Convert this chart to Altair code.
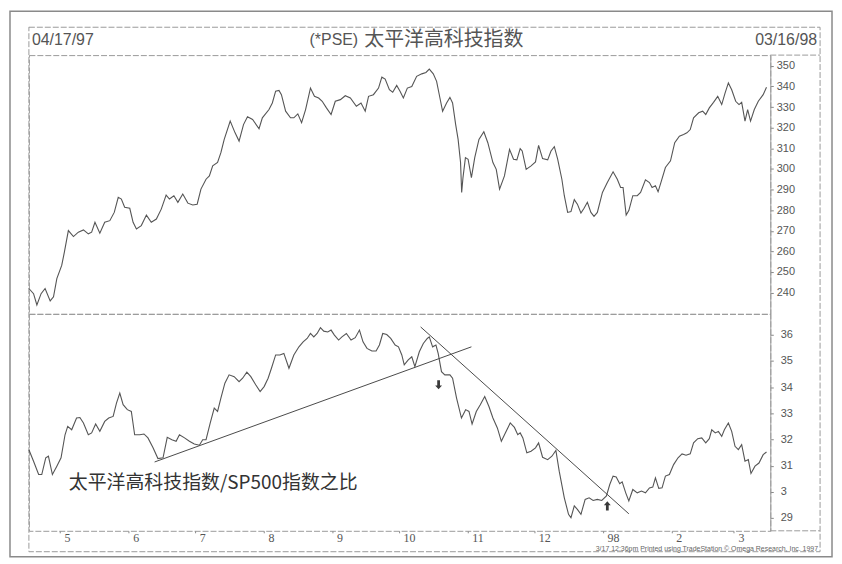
import altair as alt
import pandas as pd

START = "1997-04-17"

# ---- upper panel: (*PSE) Pacific tech index, day offset from 04/17/97 and close
top_days = [0, 2.1, 3.6, 5.5, 7.3, 9.6, 11.1, 12.6, 14.8, 16.0,
            17.8, 20.1, 22.3, 24.6, 26.8, 28.3, 29.8, 32.0, 34.2, 36.5,
            38.5, 40.3, 41.7, 43.2, 45.5, 47.0, 48.5, 50.7, 53.0, 55.2,
            57.5, 59.7, 61.9, 63.4, 65.4, 67.2, 69.4, 71.7, 73.9, 75.9,
            77.6, 79.9, 81.4, 82.9, 85.1, 86.6, 88.1, 90.8, 93.0, 94.8,
            96.8, 98.6, 100.9, 103.8, 105.3, 108.3, 109.8, 111.3, 112.8, 113.9,
            115.8, 118.0, 119.5, 121.3, 123.0, 124.8, 127.0, 128.8, 130.7, 132.3,
            134.2, 136.3, 138.2, 140.5, 142.7, 145.0, 147.7, 149.8, 151.7, 153.2,
            155.4, 157.7, 159.2, 160.7, 162.6, 164.1, 165.9, 167.4, 168.9, 170.7,
            172.7, 174.9, 177.2, 179.1, 180.6, 182.4, 183.9, 185.4, 186.6, 188.4,
            189.9, 191.1, 192.5, 193.6, 194.7, 195.2, 195.8, 196.9, 198.1, 199.6,
            201.1, 203.0, 205.2, 207.0, 209.3, 210.8, 212.3, 214.5, 216.8, 218.6,
            220.1, 221.6, 222.5, 224.3, 226.5, 228.5, 229.9, 231.7, 234.0, 235.5,
            237.0, 238.5, 240.4, 241.5, 243.0, 244.5, 246.0, 247.4, 249.0, 250.4,
            251.9, 253.5, 254.9, 256.4, 258.7, 260.9, 263.5, 265.4, 266.9, 268.0,
            269.4, 270.6, 272.4, 274.4, 275.9, 278.1, 279.9, 281.1, 282.6, 283.8,
            285.3, 287.1, 289.4, 291.3, 293.4, 295.3, 296.8, 298.3, 299.8, 302.1,
            303.9, 305.3, 306.9, 308.8, 310.7, 312.5, 314.0, 315.5, 317.0, 318.8,
            320.3, 321.5, 323.0, 324.2, 325.5, 327.2, 329.0, 331.2, 332.7]
top_vals = [242.0, 239.5, 234.0, 239.5, 242.0, 236.0, 238.0, 246.8, 253.2, 259.6,
            270.1, 267.2, 269.3, 270.4, 268.5, 269.3, 274.1, 268.8, 274.1, 274.9,
            278.9, 286.2, 285.4, 281.4, 280.9, 274.1, 270.9, 272.5, 277.6, 274.1,
            275.7, 280.5, 287.3, 285.4, 287.0, 283.8, 287.8, 283.4, 282.5, 282.9,
            290.2, 295.0, 296.6, 301.5, 303.1, 307.9, 314.3, 323.2, 317.5, 313.5,
            321.5, 325.3, 324.0, 319.5, 324.8, 328.8, 332.0, 337.7, 338.1, 336.0,
            328.0, 324.8, 324.8, 326.7, 322.4, 328.8, 339.2, 335.2, 334.4, 332.8,
            329.6, 326.4, 332.8, 333.6, 335.5, 334.4, 330.4, 332.0, 328.0, 335.2,
            336.0, 339.2, 344.5, 343.6, 338.4, 337.2, 340.5, 337.7, 334.4, 339.2,
            340.0, 344.9, 346.1, 346.8, 348.4, 346.1, 342.5, 334.4, 328.0, 332.0,
            334.7, 332.0, 321.5, 314.3, 303.1, 288.6, 295.8, 305.5, 304.7, 295.8,
            305.5, 314.3, 318.0, 312.7, 303.1, 299.8, 290.2, 296.6, 309.5, 304.7,
            304.4, 309.8, 308.7, 299.8, 301.5, 303.4, 311.4, 305.0, 304.4, 308.7,
            310.8, 304.7, 295.0, 287.0, 278.9, 279.3, 285.1, 282.9, 278.6, 280.9,
            283.8, 278.9, 277.0, 278.9, 288.6, 293.4, 298.6, 295.0, 291.0, 291.0,
            277.6, 279.8, 287.0, 287.0, 288.6, 294.7, 293.4, 291.0, 291.8, 288.9,
            294.2, 300.7, 303.9, 312.7, 315.9, 316.7, 317.5, 319.1, 324.8, 327.2,
            328.0, 326.4, 329.6, 332.3, 335.2, 331.2, 336.8, 341.7, 338.4, 332.8,
            331.2, 332.3, 323.2, 328.8, 323.2, 328.8, 332.8, 336.0, 339.6]

# ---- lower panel: ratio PSE / SP500
bot_days = [0, 2.1, 4.4, 5.8, 7.6, 8.8, 10.6, 12.6, 14.5, 16.3,
            17.5, 19.3, 21.5, 23.0, 24.6, 26.8, 28.3, 30.1, 32.0, 34.2,
            36.0, 38.0, 39.5, 41.0, 42.5, 44.4, 46.2, 47.7, 50.0, 51.9,
            53.7, 56.0, 58.2, 60.5, 62.4, 64.5, 66.4, 67.9, 70.2, 72.4,
            74.6, 76.9, 78.4, 79.9, 81.8, 83.6, 85.1, 86.6, 88.4, 90.3,
            92.6, 94.8, 96.4, 98.3, 100.1, 102.3, 104.3, 106.1, 107.9, 109.4,
            111.3, 113.2, 115.0, 117.3, 119.5, 121.8, 123.7, 125.5, 127.0, 128.5,
            130.0, 131.5, 133.0, 134.8, 136.3, 137.8, 139.7, 141.2, 143.2, 145.3,
            147.2, 149.1, 150.7, 152.5, 154.7, 156.6, 158.1, 159.6, 161.4, 163.2,
            165.2, 166.7, 168.2, 169.3, 171.1, 172.7, 174.1, 176.1, 177.9, 179.7,
            180.6, 182.1, 183.6, 184.6, 186.1, 187.6, 189.9, 191.1, 192.9, 195.1,
            197.0, 198.5, 199.9, 201.8, 203.6, 205.6, 207.5, 209.3, 211.3, 213.1,
            214.9, 217.1, 219.0, 220.5, 221.6, 222.8, 224.6, 226.5, 228.5, 229.9,
            231.7, 234.0, 235.9, 237.7, 239.2, 241.5, 243.4, 244.5, 246.0, 247.4,
            249.0, 250.9, 252.7, 254.5, 256.4, 258.4, 260.5, 262.0, 263.5, 264.9,
            266.5, 267.6, 269.2, 270.6, 272.4, 274.4, 276.3, 278.1, 279.9, 281.4,
            282.6, 284.1, 285.6, 287.1, 288.9, 290.8, 292.8, 294.6, 296.4, 298.3,
            299.8, 301.7, 303.5, 305.3, 306.9, 308.0, 309.6, 311.0, 312.5, 313.7,
            315.5, 317.0, 318.5, 320.0, 321.5, 323.0, 324.5, 325.7, 327.5, 329.3,
            331.2, 332.7]
bot_vals = [31.61, 31.17, 30.66, 30.66, 31.30, 31.36, 30.66, 30.98, 31.30, 32.18,
            32.50, 32.37, 32.82, 32.84, 32.63, 32.18, 32.25, 32.59, 32.31, 32.69,
            32.82, 32.88, 33.39, 33.77, 33.33, 33.14, 33.07, 32.18, 32.18, 32.21,
            32.06, 31.68, 31.27, 31.30, 32.08, 31.99, 31.93, 32.18, 32.06, 31.93,
            31.83, 31.78, 31.99, 31.99, 32.63, 33.20, 33.07, 33.58, 34.15, 34.47,
            34.40, 34.21, 34.34, 34.57, 34.40, 34.09, 33.83, 34.02, 34.34, 34.72,
            35.23, 35.23, 35.29, 34.72, 35.23, 35.54, 35.73, 35.86, 36.05, 35.92,
            36.05, 36.27, 36.14, 36.11, 36.18, 35.99, 35.80, 35.92, 36.05, 35.80,
            35.89, 36.18, 35.73, 35.48, 35.38, 35.38, 35.61, 36.05, 36.01, 35.86,
            35.61, 35.54, 35.23, 34.85, 35.04, 35.16, 34.78, 35.35, 35.67, 35.86,
            35.92, 35.54, 35.61, 35.29, 34.59, 34.47, 34.47, 34.34, 33.58, 32.82,
            33.14, 33.07, 32.59, 33.07, 33.33, 33.64, 33.26, 32.82, 32.44, 31.93,
            32.25, 32.63, 32.46, 32.18, 32.25, 32.06, 31.49, 31.55, 31.68, 31.87,
            31.32, 31.23, 31.36, 31.58, 30.79, 29.77, 29.14, 29.01, 29.46, 29.33,
            29.14, 29.71, 29.77, 29.67, 29.71, 29.67, 29.84, 30.28, 30.60, 30.57,
            30.31, 30.38, 29.96, 29.65, 30.09, 29.96, 30.03, 29.96, 30.15, 30.18,
            30.53, 30.13, 30.15, 30.60, 30.66, 31.04, 31.30, 31.45, 31.40, 31.45,
            31.87, 32.03, 32.06, 31.87, 32.03, 32.37, 32.25, 32.31, 32.12, 32.37,
            32.63, 32.31, 31.74, 31.61, 31.80, 31.17, 31.23, 30.70, 30.98, 31.10,
            31.42, 31.52]

# trend lines drawn on the ratio panel (day offset, value)
trend_seg = ["up", "up", "down", "down"]
trend_days = [56.7, 199.6, 176.7, 270.6]
trend_vals = [31.14, 35.54, 36.30, 29.16]

# signal arrows (180 = pointing down, 0 = pointing up)
arrow_days = [184.8, 260.9]
arrow_vals = [34.09, 29.46]
arrow_dir = [180, 0]

# tick labels
top_ticks = [240, 250, 260, 270, 280, 290, 300, 310, 320, 330, 340, 350]
bot_ticks = [29, 30, 31, 32, 33, 34, 35, 36]
month_ticks = [(1997, 5), (1997, 6), (1997, 7), (1997, 8), (1997, 9), (1997, 10),
               (1997, 11), (1997, 12), (1998, 1), (1998, 2), (1998, 3)]

title_left = "04/17/97"
title_right = "03/16/98"
title_code = "(*PSE)"
title_cn = "太平洋高科技指数"
note_cn = "太平洋高科技指数/SP500指数之比"
note_day = 18.0
note_val = 30.33
footer = "3/17 12:36pm Printed using TradeStation © Omega Research, Inc. 1997"

# ---------------------------------------------------------------
base = pd.Timestamp(START)


def to_dates(days):
    return [(base + pd.Timedelta(days=d)).round("min") for d in days]


top_df = pd.DataFrame({"date": to_dates(top_days), "value": top_vals})
bot_df = pd.DataFrame({"date": to_dates(bot_days), "value": bot_vals})
trend_df = pd.DataFrame({"date": to_dates(trend_days), "value": trend_vals, "seg": trend_seg})
arrow_df = pd.DataFrame({"date": to_dates(arrow_days), "value": arrow_vals, "dir": arrow_dir})
note_df = pd.DataFrame({"date": to_dates([note_day]), "value": [note_val], "t": [note_cn]})
one = pd.DataFrame({"k": [0]})

W, H_TOP, H_BOT = 745, 260, 218
LINE = "#555555"
FRAME = "#9a9a9a"
# upward-pointing arrow glyph (rotated by the angle channel)
ARROW_PATH = "M-0.3,1 L0.3,1 L0.3,-0.15 L0.75,-0.15 L0,-1 L-0.75,-0.15 L-0.3,-0.15 Z"

x_domain = [alt.DateTime(year=1997, month=4, date=17),
            alt.DateTime(year=1998, month=3, date=17, hours=10)]
x_scale = alt.Scale(domain=x_domain)

x_top = alt.X("date:T", scale=x_scale, axis=None)
x_bot = alt.X(
    "date:T", scale=x_scale,
    axis=alt.Axis(
        values=[alt.DateTime(year=y, month=m, date=1) for y, m in month_ticks],
        labelExpr="month(datum.value) == 0 ? '98' : '' + (month(datum.value) + 1)",
        labelAlign="left", labelOffset=4, labelPadding=0, labelBaseline="top",
        labelFont="Liberation Serif", labelFontSize=12, labelColor="#555",
        tickSize=2, tickColor="#888", domain=False, grid=False, title=None,
        labelFlush=False, labelOverlap=False,
    ),
)

y_top = alt.Y(
    "value:Q",
    scale=alt.Scale(domain=[229.7, 355.2], nice=False, zero=False),
    axis=alt.Axis(orient="right", values=top_ticks, title=None, grid=False,
                  tickSize=3, labelPadding=3, labelFont="Liberation Sans",
                  labelFontSize=11, labelColor="#555", domainColor=FRAME,
                  tickColor="#888", labelFlush=False),
)
y_bot = alt.Y(
    "value:Q",
    scale=alt.Scale(domain=[28.51, 36.80], nice=False, zero=False),
    axis=alt.Axis(orient="right", values=bot_ticks, title=None, grid=False,
                  labelExpr="datum.value == 30 ? '3' : datum.label",
                  tickSize=3, labelPadding=7, labelFont="Liberation Sans",
                  labelFontSize=11, labelColor="#555", domainColor=FRAME,
                  tickColor="#888", labelFlush=False),
)


def frame_rect(x, x2, y, y2, **kw):
    return alt.Chart(one).mark_rect(fillOpacity=0, **kw).encode(
        x=alt.value(x), x2=alt.value(x2), y=alt.value(y), y2=alt.value(y2))


def frame_hline(x, x2, y, **kw):
    return alt.Chart(one).mark_rule(**kw).encode(
        x=alt.value(x), x2=alt.value(x2), y=alt.value(y))


def label(txt, x, y, **kw):
    return alt.Chart(one).mark_text(text=txt, baseline="middle", **kw).encode(
        x=alt.value(x), y=alt.value(y))


outer = frame_rect(-19, 807, -44, 504, stroke="#8a8a8a", strokeWidth=1.5)
inner = frame_rect(0, 795, -28, 499, stroke=FRAME, strokeWidth=1, strokeDash=[6, 2])
hdr_line = frame_hline(745, 795, 0, stroke=FRAME, strokeWidth=1, strokeDash=[6, 2])
bot_hline = frame_hline(745, 795, 478, stroke=FRAME, strokeWidth=1, strokeDash=[6, 2])

t_left = label(title_left, 3, -15, align="left", font="Liberation Sans", fontSize=16, color="#555")
t_code = label(title_code, 282, -15, align="left", font="Liberation Sans", fontSize=16, color="#555")
t_cn = label(title_cn, 337, -15, align="left", font="Noto Sans CJK SC", fontSize=20, color="#555")
t_right = label(title_right, 792, -15, align="right", font="Liberation Sans", fontSize=16, color="#555")

top_line = alt.Chart(top_df).mark_line(color=LINE, strokeWidth=1.1).encode(x=x_top, y=y_top)

top = alt.layer(outer, inner, hdr_line, bot_hline, t_left, t_code, t_cn, t_right, top_line).properties(
    width=W, height=H_TOP)

bot_line = alt.Chart(bot_df).mark_line(color=LINE, strokeWidth=1.1).encode(x=x_bot, y=y_bot)
trends = alt.Chart(trend_df).mark_line(color="#4a4a4a", strokeWidth=1).encode(
    x=x_bot, y=y_bot, detail="seg:N")
arrows = alt.Chart(arrow_df).mark_point(shape=ARROW_PATH, filled=True, size=85, color="#3a3a3a",
                                        opacity=1).encode(
    x=x_bot, y=y_bot, angle=alt.Angle("dir:Q", scale=None))
note = alt.Chart(note_df).mark_text(align="left", baseline="middle", font="Noto Sans CJK SC",
                                    fontSize=19, color="#333").encode(x=x_bot, y=y_bot, text="t:N")
foot = label(footer, 793, 236, align="right", font="Liberation Sans", fontSize=7, color="#666")

bottom = alt.layer(bot_line, trends, arrows, note, foot).properties(width=W, height=H_BOT)

chart = (
    alt.vconcat(top, bottom, spacing=0, bounds="flush")
    .properties(padding=0, background="white")
    .configure_view(stroke=FRAME, strokeWidth=1, strokeDash=[6, 2])
)

chart.save("out.html", embed_options={"renderer": "svg", "actions": False})
